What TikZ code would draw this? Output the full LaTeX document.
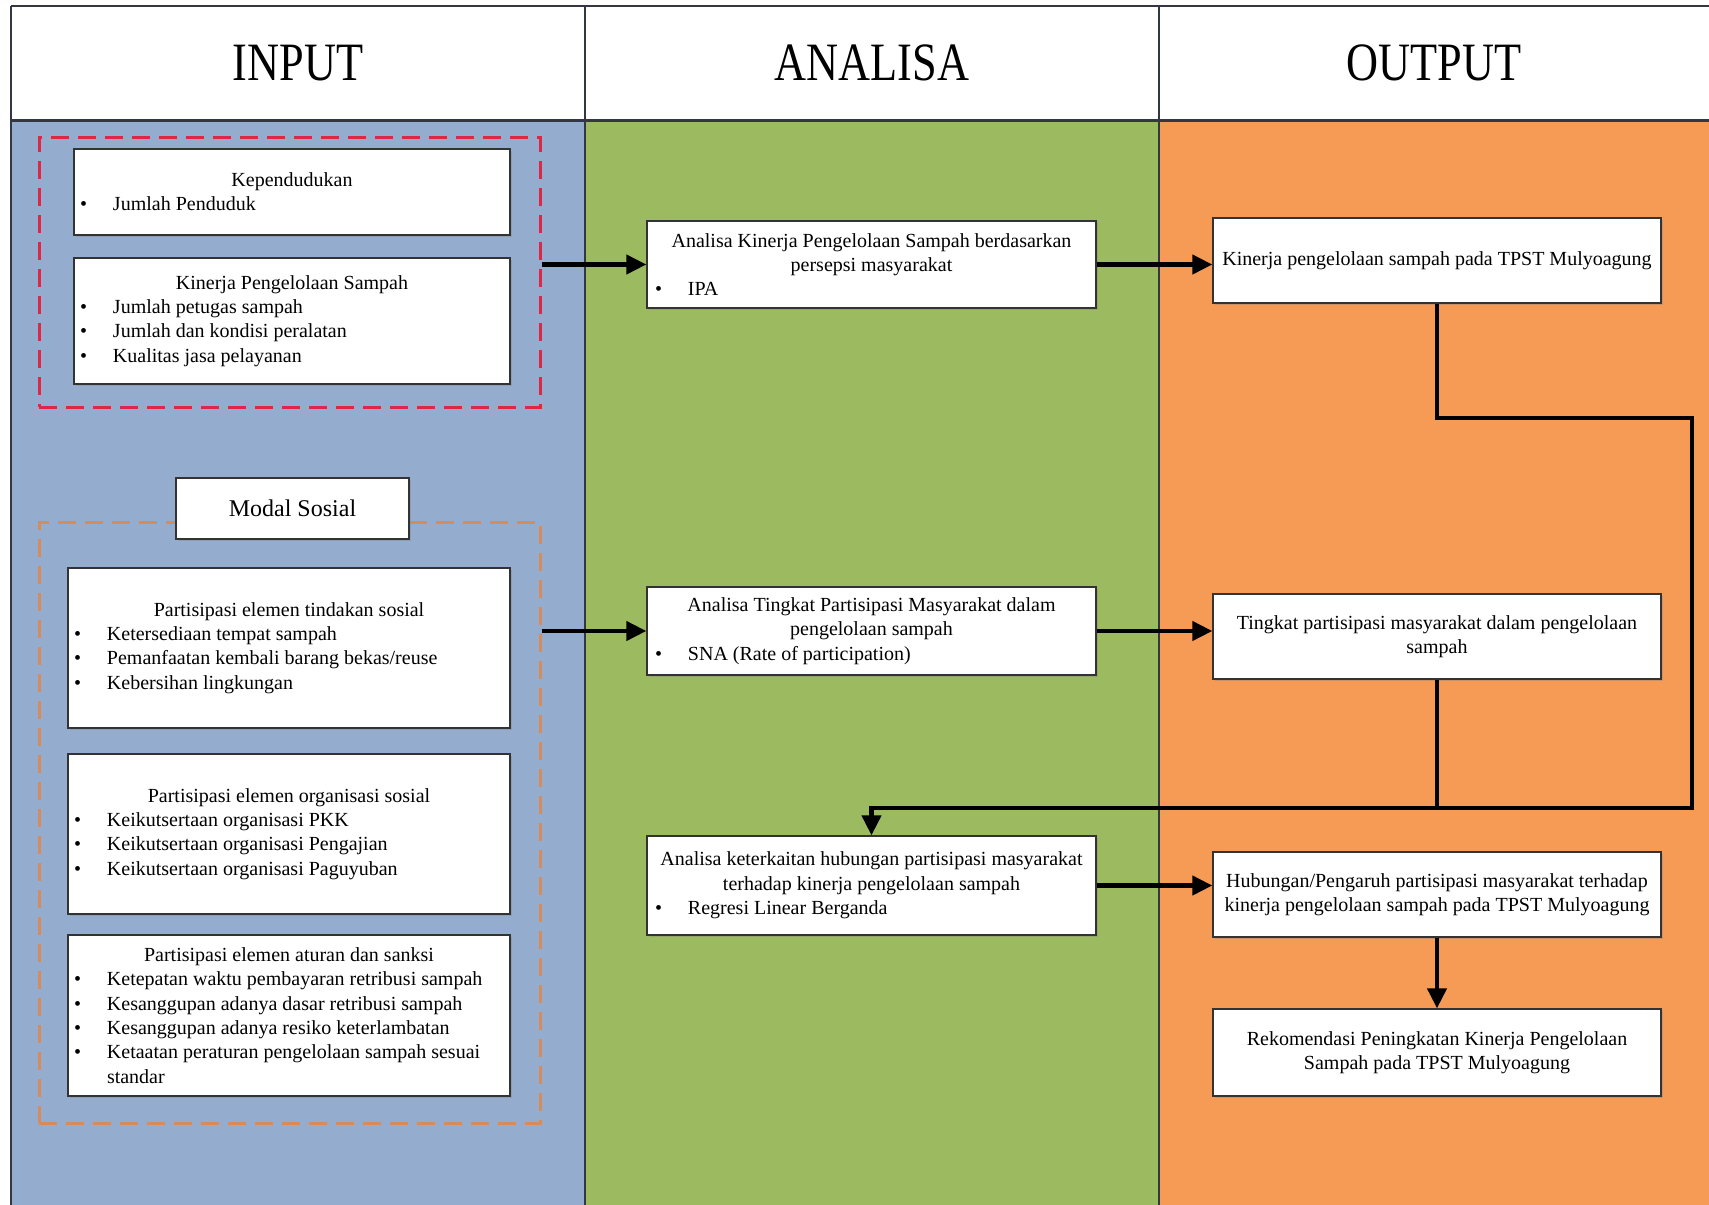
\documentclass[tikz,border=0pt]{standalone}
\usepackage{fontspec}
\setmainfont{Liberation Serif}
\usetikzlibrary{arrows.meta,shadows}
\definecolor{colblue}{RGB}{148,173,207}
\definecolor{colgreen}{RGB}{156,187,96}
\definecolor{colorange}{RGB}{245,155,85}
\definecolor{dashred}{RGB}{220,40,70}
\definecolor{dashtan}{RGB}{214,140,90}
\definecolor{rulecol}{RGB}{50,55,65}
\newcommand{\ttl}[1]{{\centering #1\par}}
\newcommand{\itm}[2][33pt]{{\hangindent=#1\hangafter=1\noindent\makebox[#1][l]{•}#2\par}}
\newcommand{\boxtext}[2]{\begin{minipage}{#1}\raggedright\fontsize{20}{24.3}\selectfont #2\end{minipage}}
\tikzset{
  bx/.style={draw=black!80, fill=white, line width=1.3pt, inner sep=0pt,
    drop shadow={shadow xshift=2pt,shadow yshift=-2pt,opacity=0.35}},
  grpbox/.style={line width=3pt, dash pattern=on 18pt off 9pt, inner sep=0pt},
  arr/.style={line width=4.2pt, -{Triangle[length=20pt,width=19pt]}},
  fline/.style={line width=4.2pt},
  head/.style={font=\fontsize{54}{60}\selectfont}
}
\begin{document}
\begin{tikzpicture}[x=1pt,y=-1pt]
\useasboundingbox (0,0) rectangle (1709,1205);
\clip (0,0) rectangle (1709,1205);
\fill[white] (0,0) rectangle (1709,1205);
% columns
\fill[colblue] (11,120) rectangle (585,1205);
\fill[colgreen] (585,120) rectangle (1159,1205);
\fill[colorange] (1159,120) rectangle (1709,1205);
\fill[white] (11,6) rectangle (1709,120);
\draw[rulecol, line width=1.2pt] (11,6) -- (1709,6);
\draw[rulecol, line width=1.2pt] (11,6) -- (11,1205);
\draw[rulecol, line width=1.2pt] (585,6) -- (585,1205);
\draw[rulecol, line width=1.2pt] (1159,6) -- (1159,1205);
\draw[rulecol, line width=3pt] (11,120) -- (1709,120);
% headers
\node[head] (hIn) at (298,63) {\scalebox{0.82}[1]{INPUT}};
\node[head] (hAn) at (872,63) {\scalebox{0.82}[1]{ANALISA}};
\node[head] (hOut) at (1434,63) {\scalebox{0.82}[1]{OUTPUT}};
% group boxes
\node[grpbox, draw=dashred, minimum width=501pt, minimum height=270pt] (grpA) at (289.5,272) {};
\node[grpbox, draw=dashtan, minimum width=501pt, minimum height=601pt] (grpB) at (289.5,822.5) {};
% input boxes
\node[bx, minimum width=436pt, minimum height=86pt] (kep) at (292,192)
  {\boxtext{424pt}{\ttl{Kependudukan}\itm{Jumlah Penduduk}}};
\node[bx, minimum width=436pt, minimum height=126pt] (kin) at (292,321)
  {\boxtext{424pt}{\ttl{Kinerja Pengelolaan Sampah}\itm{Jumlah petugas sampah}\itm{Jumlah dan kondisi peralatan}\itm{Kualitas jasa pelayanan}}};
\node[bx, minimum width=233pt, minimum height=61pt, font=\fontsize{24}{28}\selectfont] (modal) at (292.5,508.5) {Modal Sosial};
\node[bx, minimum width=442pt, minimum height=160pt] (tind) at (289,648)
  {\boxtext{430pt}{\ttl{Partisipasi elemen tindakan sosial}\itm{Ketersediaan tempat sampah}\itm{Pemanfaatan kembali barang bekas/reuse}\itm{Kebersihan lingkungan}}};
\node[bx, minimum width=442pt, minimum height=160pt] (org) at (289,834)
  {\boxtext{430pt}{\ttl{Partisipasi elemen organisasi sosial}\itm{Keikutsertaan organisasi PKK}\itm{Keikutsertaan organisasi Pengajian}\itm{Keikutsertaan organisasi Paguyuban}}};
\node[bx, minimum width=442pt, minimum height=161pt] (atur) at (289,1015.5)
  {\boxtext{430pt}{\ttl{Partisipasi elemen aturan dan sanksi}\itm{Ketepatan waktu pembayaran retribusi sampah}\itm{Kesanggupan adanya dasar retribusi sampah}\itm{Kesanggupan adanya resiko keterlambatan}\itm{Ketaatan peraturan pengelolaan sampah sesuai\hfil\break standar}}};
% analysis boxes
\node[bx, minimum width=449pt, minimum height=87pt] (A1) at (871.5,264.5)
  {\boxtext{433pt}{\ttl{Analisa Kinerja Pengelolaan Sampah berdasarkan}\ttl{persepsi masyarakat}\itm{IPA}}};
\node[bx, minimum width=449pt, minimum height=88pt] (A2) at (871.5,631)
  {\boxtext{433pt}{\ttl{Analisa Tingkat Partisipasi Masyarakat dalam}\ttl{pengelolaan sampah}\itm{SNA (Rate of participation)}}};
\node[bx, minimum width=449pt, minimum height=99pt] (A3) at (871.5,885.5)
  {\boxtext{433pt}{\ttl{Analisa keterkaitan hubungan partisipasi masyarakat}\ttl{terhadap kinerja pengelolaan sampah}\itm{Regresi Linear Berganda}}};
% output boxes
\node[bx, minimum width=448pt, minimum height=85pt] (O1) at (1437,260.5)
  {\boxtext{444pt}{\ttl{Kinerja pengelolaan sampah pada TPST Mulyoagung}}};
\node[bx, minimum width=448pt, minimum height=85pt] (O2) at (1437,636.5)
  {\boxtext{440pt}{\ttl{Tingkat partisipasi masyarakat dalam pengelolaan}\ttl{sampah}}};
\node[bx, minimum width=448pt, minimum height=85pt] (O3) at (1437,894.5)
  {\boxtext{444pt}{\ttl{Hubungan/Pengaruh partisipasi masyarakat terhadap}\ttl{kinerja pengelolaan sampah pada TPST Mulyoagung}}};
\node[bx, minimum width=448pt, minimum height=87pt] (O4) at (1437,1052.5)
  {\boxtext{440pt}{\ttl{Rekomendasi Peningkatan Kinerja Pengelolaan}\ttl{Sampah pada TPST Mulyoagung}}};
% connectors
\draw[arr] (grpA.east |- A1.west) -- (A1.west);
\draw[arr] (grpB.east |- A2.west) -- (A2.west);
\draw[arr] (A1.east) -- (A1.east -| O1.west);
\draw[arr] (A2.east) -- (A2.east -| O2.west);
\draw[arr] (A3.east) -- (A3.east -| O3.west);
\draw[arr] (O3.south) -- (O4.north);
\coordinate (c1) at (1692,418);
\coordinate (c2) at (1692,808);
\draw[fline] (O2.south) -- (O2.south |- c2);
\draw[arr] (O1.south) |- (c1) -- (c2) -| (A3.north);
\end{tikzpicture}
\end{document}
